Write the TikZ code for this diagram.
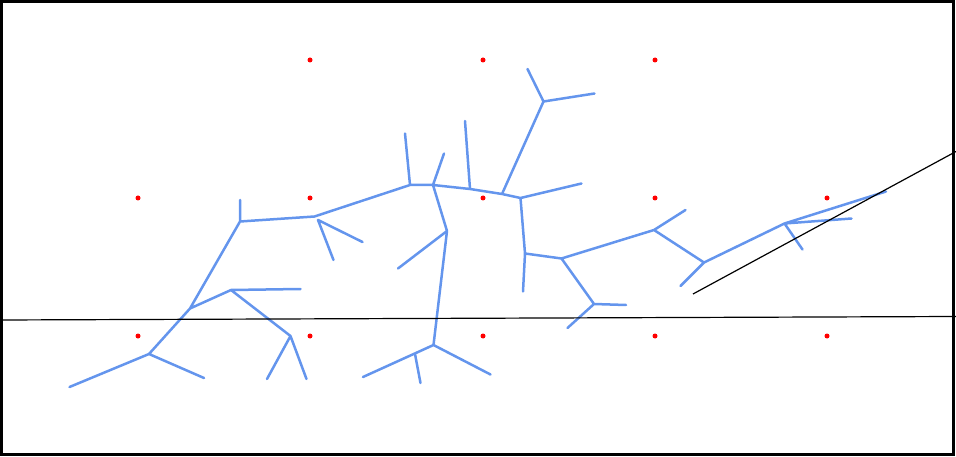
\documentclass[tikz,border=0pt]{standalone}
\usetikzlibrary{positioning}
\definecolor{treeblue}{RGB}{100,149,237}
\tikzset{branch/.style={draw=treeblue,line width=2.5pt,line cap=round,line join=round},
site/.style={circle,fill=red,inner sep=0pt,minimum size=5pt},
cut/.style={draw=black,line width=1.2pt}
}
\begin{document}
\begin{tikzpicture}[x=1pt,y=-1pt]
       \useasboundingbox (0,0) rectangle (956,457);
       \draw[line width=2.6pt] (1.5,1.5) rectangle (953.5,454.5);

       % grid of sites
       \foreach \x in {310,483,655} \node[site] at (\x,60) {};
       \foreach \x in {138,310,483,655,827} \node[site] at (\x,198) {};
       \foreach \x in {138,310,483,655,827} \node[site] at (\x,336) {};

       % tree points
       \coordinate (a) at (240,221.5);   \coordinate (a1) at (240,200);
       \coordinate (b) at (314.5,216.5); \coordinate (b0) at (318,220);
       \coordinate (b1) at (362.5,242);  \coordinate (b2) at (333.5,260);
       \coordinate (c) at (410,185);     \coordinate (c1) at (405,133.5);
       \coordinate (d) at (190,308.5);   \coordinate (e) at (231,290);
       \coordinate (e1) at (300.5,289);  \coordinate (f) at (290.5,336);
       \coordinate (f1) at (267,379);    \coordinate (f2) at (306.5,379);
       \coordinate (g) at (149,354);     \coordinate (g1) at (69.5,387);
       \coordinate (g2) at (204,378);
       \coordinate (h) at (433,185);     \coordinate (h1) at (444,153.5);
       \coordinate (i) at (470,189);     \coordinate (i1) at (465,121);
       \coordinate (j) at (502,194);     \coordinate (k) at (543.5,101.5);
       \coordinate (k1) at (527.5,69);   \coordinate (k2) at (594.5,93.5);
       \coordinate (l) at (520.5,198);   \coordinate (l1) at (581.5,183.5);
       \coordinate (m) at (525,253.5);   \coordinate (m1) at (523,291.5);
       \coordinate (n) at (561.5,258.5); \coordinate (o) at (594,304);
       \coordinate (o1) at (626,305);    \coordinate (o2) at (567.5,328);
       \coordinate (q) at (447,231);     \coordinate (q1) at (398,268.5);
       \coordinate (r) at (433.5,345);   \coordinate (r1) at (363,377);
       \coordinate (r0) at (415,354);    \coordinate (r2) at (420.5,383);
       \coordinate (r3) at (490.5,374.5);
       \coordinate (p) at (654,230);     \coordinate (p1) at (685.5,210);
       \coordinate (s) at (704,262.5);   \coordinate (s1) at (680.5,286);
       \coordinate (t) at (784.5,223.5); \coordinate (t1) at (886,191.5);
       \coordinate (t2) at (851.5,218.5);\coordinate (t3) at (802.5,249.5);

       % the tree
       \path[branch] (a) -- (a1) (a) -- (b) (b0) -- (b1) (b0) -- (b2)
           (b) -- (c) (c) -- (c1) (c) -- (h) (h) -- (h1) (h) -- (i)
           (i) -- (i1) (i) -- (j) (j) -- (k) (k) -- (k1) (k) -- (k2)
           (j) -- (l) (l) -- (l1) (l) -- (m) (m) -- (m1) (m) -- (n)
           (n) -- (o) (o) -- (o1) (o) -- (o2) (n) -- (p) (p) -- (p1)
           (p) -- (s) (s) -- (s1) (s) -- (t) (t) -- (t1) (t) -- (t2)
           (t) -- (t3)
           (h) -- (q) (q) -- (q1) (q) -- (r) (r) -- (r1) (r0) -- (r2)
           (r) -- (r3)
           (a) -- (d) (d) -- (e) (e) -- (e1) (e) -- (f) (f) -- (f1)
           (f) -- (f2) (d) -- (g) (g) -- (g1) (g) -- (g2);

       % cutting lines
       \coordinate (w) at (0,320);    \coordinate (w1) at (956,316.5);
       \coordinate (u) at (693,294);  \coordinate (u1) at (956,151.5);
       \path[cut] (w) -- (w1) (u) -- (u1);
\end{tikzpicture}
\end{document}
